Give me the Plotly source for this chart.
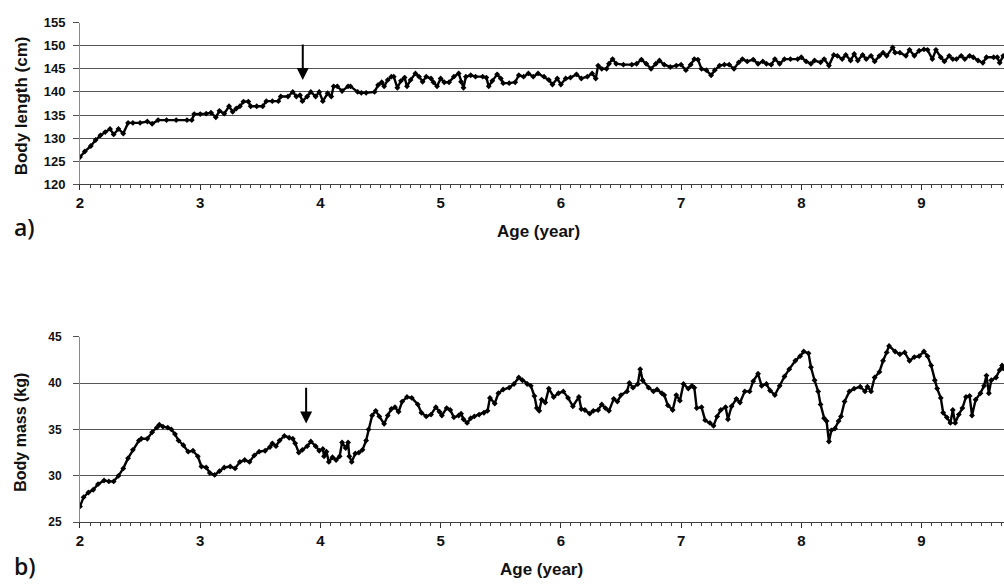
import plotly.graph_objects as go

# ---------------- data ----------------
age_length = [2.00, 2.04, 2.09, 2.13, 2.17, 2.21, 2.25, 2.28, 2.32, 2.36, 2.40, 2.44, 2.50, 2.56, 2.60,
              2.65, 2.72, 2.80, 2.89, 2.93, 2.95, 3.00, 3.05, 3.09, 3.13, 3.16, 3.20, 3.24, 3.27, 3.30,
              3.33, 3.36, 3.40, 3.42, 3.47, 3.52, 3.55, 3.60, 3.65, 3.67, 3.73, 3.77, 3.80, 3.83, 3.85,
              3.89, 3.92, 3.96, 3.99, 4.02, 4.06, 4.09, 4.11, 4.14, 4.18, 4.23, 4.25, 4.31, 4.34, 4.38,
              4.45, 4.48, 4.51, 4.53, 4.56, 4.59, 4.61, 4.64, 4.67, 4.70, 4.72, 4.75, 4.79, 4.82, 4.85,
              4.88, 4.92, 4.94, 4.97, 5.00, 5.03, 5.07, 5.11, 5.15, 5.17, 5.19, 5.21, 5.25, 5.29, 5.35,
              5.38, 5.40, 5.43, 5.47, 5.50, 5.52, 5.57, 5.62, 5.65, 5.69, 5.73, 5.77, 5.81, 5.86, 5.90,
              5.93, 5.97, 6.00, 6.04, 6.08, 6.13, 6.17, 6.22, 6.26, 6.29, 6.31, 6.34, 6.38, 6.40, 6.43,
              6.46, 6.52, 6.59, 6.63, 6.67, 6.71, 6.75, 6.79, 6.82, 6.86, 6.91, 6.96, 7.00, 7.04, 7.08,
              7.11, 7.14, 7.17, 7.21, 7.25, 7.28, 7.32, 7.36, 7.40, 7.44, 7.48, 7.51, 7.55, 7.60, 7.64,
              7.68, 7.71, 7.75, 7.78, 7.82, 7.86, 7.91, 7.97, 8.00, 8.04, 8.08, 8.11, 8.16, 8.19, 8.23,
              8.27, 8.30, 8.34, 8.37, 8.41, 8.44, 8.47, 8.51, 8.54, 8.58, 8.61, 8.65, 8.68, 8.71, 8.76,
              8.78, 8.82, 8.87, 8.90, 8.94, 8.98, 9.02, 9.05, 9.09, 9.12, 9.16, 9.19, 9.23, 9.26, 9.29,
              9.33, 9.36, 9.40, 9.43, 9.47, 9.51, 9.54, 9.60, 9.63, 9.65, 9.68]
body_length = [125.9, 127.1, 128.3, 129.6, 130.6, 131.3, 132.0, 130.8, 132.0, 131.0, 133.3, 133.3, 133.3, 133.6, 133.1,
               133.9, 133.9, 133.9, 133.9, 133.9, 135.2, 135.2, 135.3, 135.5, 134.5, 135.9, 135.3, 136.9, 135.7, 136.4,
               136.9, 137.9, 137.9, 136.9, 136.9, 136.9, 138.0, 138.0, 138.0, 139.0, 139.0, 140.0, 139.0, 139.3, 138.0,
               139.0, 140.0, 139.0, 140.0, 138.0, 139.7, 139.0, 141.2, 141.2, 140.2, 141.2, 141.2, 140.0, 139.8, 139.8,
               140.0, 141.5, 142.1, 141.2, 142.6, 143.3, 143.3, 140.9, 142.4, 143.1, 141.2, 142.6, 144.0, 143.3, 142.2,
               143.3, 142.9, 142.1, 141.2, 142.9, 142.1, 142.1, 143.3, 144.0, 142.2, 140.9, 143.3, 143.6, 143.3, 143.3,
               143.1, 141.2, 142.4, 143.8, 142.9, 141.9, 141.9, 142.1, 143.6, 143.3, 144.0, 143.3, 144.0, 143.3, 142.6,
               141.6, 142.9, 141.6, 142.9, 143.1, 143.8, 142.9, 143.3, 144.0, 142.9, 145.7, 145.0, 145.0, 146.1, 147.1,
               146.1, 145.9, 145.9, 146.1, 147.0, 146.1, 145.0, 146.1, 146.8, 145.9, 145.4, 145.7, 145.9, 144.7, 145.9,
               147.1, 147.0, 145.0, 144.7, 143.6, 144.7, 145.7, 145.9, 145.9, 145.0, 146.4, 147.1, 146.6, 147.0, 146.1,
               146.6, 146.1, 145.9, 147.1, 146.1, 147.1, 147.1, 147.1, 147.5, 146.6, 146.1, 146.8, 146.4, 147.1, 145.7,
               148.0, 147.8, 147.1, 148.0, 146.8, 148.2, 146.8, 148.0, 147.1, 147.8, 146.6, 147.8, 148.5, 147.8, 149.6,
               148.5, 148.5, 147.8, 149.1, 147.8, 148.9, 149.2, 149.1, 147.1, 149.1, 147.5, 146.6, 147.8, 147.1, 147.1,
               147.8, 147.1, 147.8, 147.5, 146.8, 146.3, 147.5, 147.5, 147.5, 146.3, 147.8]

age_mass = [2.00, 2.03, 2.07, 2.11, 2.15, 2.20, 2.24, 2.28, 2.32, 2.36, 2.40, 2.44, 2.49, 2.51, 2.56,
            2.60, 2.64, 2.66, 2.69, 2.73, 2.76, 2.79, 2.82, 2.86, 2.90, 2.94, 2.98, 3.01, 3.05, 3.08,
            3.12, 3.16, 3.20, 3.25, 3.29, 3.33, 3.37, 3.41, 3.45, 3.49, 3.54, 3.58, 3.60, 3.63, 3.66,
            3.70, 3.74, 3.77, 3.79, 3.82, 3.85, 3.89, 3.92, 3.96, 3.99, 4.02, 4.03, 4.05, 4.07, 4.10,
            4.13, 4.16, 4.18, 4.21, 4.23, 4.24, 4.26, 4.29, 4.32, 4.35, 4.38, 4.40, 4.43, 4.46, 4.49,
            4.53, 4.56, 4.59, 4.62, 4.65, 4.68, 4.72, 4.76, 4.81, 4.84, 4.88, 4.92, 4.96, 4.99, 5.01,
            5.05, 5.08, 5.11, 5.15, 5.17, 5.19, 5.22, 5.25, 5.28, 5.32, 5.36, 5.39, 5.41, 5.45, 5.48,
            5.52, 5.57, 5.61, 5.65, 5.68, 5.72, 5.75, 5.78, 5.80, 5.82, 5.84, 5.87, 5.90, 5.94, 5.98,
            6.02, 6.06, 6.10, 6.15, 6.17, 6.20, 6.24, 6.27, 6.31, 6.34, 6.37, 6.40, 6.44, 6.47, 6.50,
            6.55, 6.57, 6.60, 6.64, 6.66, 6.68, 6.73, 6.77, 6.80, 6.84, 6.86, 6.89, 6.93, 6.96, 6.99,
            7.02, 7.06, 7.09, 7.11, 7.13, 7.17, 7.20, 7.24, 7.27, 7.30, 7.33, 7.37, 7.39, 7.42, 7.46,
            7.49, 7.53, 7.57, 7.60, 7.64, 7.67, 7.71, 7.74, 7.78, 7.82, 7.86, 7.90, 7.95, 7.99, 8.02,
            8.06, 8.08, 8.11, 8.14, 8.16, 8.19, 8.21, 8.23, 8.25, 8.28, 8.31, 8.33, 8.36, 8.40, 8.44,
            8.49, 8.53, 8.55, 8.58, 8.61, 8.65, 8.68, 8.71, 8.73, 8.78, 8.82, 8.86, 8.90, 8.94, 8.98,
            9.02, 9.05, 9.08, 9.11, 9.13, 9.16, 9.18, 9.21, 9.24, 9.26, 9.28, 9.31, 9.34, 9.37, 9.40,
            9.42, 9.45, 9.49, 9.52, 9.54, 9.56, 9.58, 9.62, 9.65, 9.67, 9.68]
body_mass = [26.7, 27.7, 28.2, 28.5, 29.1, 29.5, 29.4, 29.4, 30.0, 30.8, 31.9, 32.8, 33.8, 34.0, 34.0,
             34.7, 35.2, 35.5, 35.3, 35.2, 35.0, 34.5, 33.8, 33.3, 32.6, 32.7, 32.1, 31.0, 30.9, 30.3,
             30.1, 30.5, 30.9, 31.0, 30.8, 31.5, 31.7, 31.5, 32.2, 32.6, 32.7, 33.1, 33.5, 33.2, 33.8,
             34.3, 34.1, 34.0, 33.5, 32.5, 32.8, 33.2, 33.7, 33.2, 32.7, 32.9, 32.1, 32.6, 31.5, 32.0,
             31.7, 32.1, 33.6, 33.0, 33.6, 32.1, 31.5, 32.4, 32.5, 32.8, 33.8, 35.0, 36.5, 37.0, 36.4,
             35.6, 36.5, 37.2, 37.4, 36.9, 38.0, 38.5, 38.4, 37.7, 36.8, 36.4, 36.6, 37.4, 36.9, 36.5,
             37.3, 37.1, 36.3, 36.5, 36.7, 36.1, 35.7, 36.2, 36.4, 36.6, 36.8, 37.0, 38.4, 37.8, 38.9,
             39.3, 39.5, 39.9, 40.6, 40.3, 39.9, 39.7, 38.6, 37.3, 37.0, 38.2, 37.9, 39.4, 38.5, 38.9,
             39.1, 38.4, 37.5, 38.5, 37.2, 37.1, 36.7, 37.0, 37.1, 37.7, 37.3, 37.0, 38.3, 38.0, 38.7,
             39.1, 40.0, 39.5, 39.9, 41.5, 40.3, 39.5, 39.1, 39.3, 38.9, 38.7, 37.6, 37.1, 38.7, 38.1,
             39.9, 39.4, 39.7, 39.5, 37.3, 37.4, 36.0, 35.7, 35.4, 36.4, 37.1, 37.4, 36.1, 37.5, 38.3,
             37.9, 39.1, 39.1, 40.2, 41.0, 39.7, 39.9, 39.2, 38.7, 39.7, 40.7, 41.5, 42.4, 42.9, 43.4,
             43.2, 41.7, 40.3, 39.1, 37.7, 36.2, 35.9, 33.7, 34.9, 35.1, 35.9, 36.4, 38.0, 39.1, 39.4,
             39.6, 39.1, 39.6, 39.1, 40.6, 41.2, 42.4, 43.3, 44.0, 43.4, 43.1, 43.3, 42.4, 42.8, 42.9,
             43.4, 42.9, 41.9, 40.3, 39.4, 38.4, 36.8, 36.3, 35.7, 37.1, 35.7, 36.6, 37.3, 38.5, 38.6,
             36.5, 38.2, 38.9, 39.7, 40.8, 38.9, 40.3, 40.6, 41.4, 41.9, 41.6]

age_ticks = [2, 3, 4, 5, 6, 7, 8, 9]
length_ticks = [120, 125, 130, 135, 140, 145, 150, 155]
mass_ticks = [25, 30, 35, 40, 45]
age_range = [2, 9.686]
length_range = [120, 155]
mass_range = [25, 45]

# arrows: [age, tail value, tip value]
arrow_length = [3.853, 150.6, 142.6]
arrow_mass = [3.881, 39.65, 35.65]

# ---------------- layout helpers ----------------
W, H = 1004, 587
X0 = 76.3 / W


def py(p):
    return 1 - p / H


SANS = "Liberation Sans, Arial, sans-serif"
TICKFONT = dict(family=SANS, size=13, color="#111111", weight="bold")
TITLEFONT = dict(family=SANS, size=17, color="#111111", weight="bold")
LABFONT = dict(family="Open Sans", size=23, color="#111111", weight=600)

fig = go.Figure()

line_style = dict(color="black", width=2.4)
mark_style = dict(symbol="diamond", size=4.5, color="black")

fig.add_trace(go.Scatter(x=age_length, y=body_length, mode="lines+markers",
                         line=line_style, marker=mark_style, xaxis="x", yaxis="y",
                         showlegend=False, hoverinfo="x+y"))
fig.add_trace(go.Scatter(x=age_mass, y=body_mass, mode="lines+markers",
                         line=line_style, marker=mark_style, xaxis="x2", yaxis="y2",
                         showlegend=False, hoverinfo="x+y"))


def xaxis_cfg(anchor):
    return dict(domain=[X0, 1.0], anchor=anchor, range=age_range, tickvals=age_ticks,
                showline=True, linecolor="#404040", linewidth=1,
                ticks="outside", ticklen=5, tickcolor="#303030", tickwidth=1,
                ticklabelstandoff=0,
                minor=dict(dtick=1 / 12, tick0=2, ticks="outside", ticklen=3,
                           tickcolor="#404040", tickwidth=1, showgrid=False),
                showgrid=False, zeroline=False, tickfont=dict(TICKFONT, size=15))


def yaxis_cfg(anchor, dom, rng, vals, size, standoff):
    return dict(domain=dom, anchor=anchor, range=rng, tickvals=vals,
                showline=True, linecolor="#8a8a8a", linewidth=1,
                ticks="outside", ticklen=6, tickcolor="#505050", tickwidth=1,
                ticklabelstandoff=standoff,
                showgrid=True, gridcolor="#555555", gridwidth=1, zeroline=False,
                tickfont=dict(TICKFONT, size=size))


fig.update_layout(
    width=W, height=H,
    margin=dict(l=0, r=0, t=0, b=0),
    paper_bgcolor="white", plot_bgcolor="white",
    xaxis=xaxis_cfg("y"),
    yaxis=yaxis_cfg("x", [py(182), py(16)], length_range, length_ticks, 13, 5),
    xaxis2=xaxis_cfg("y2"),
    yaxis2=yaxis_cfg("x2", [py(528.7), py(338.3)], mass_range, mass_ticks, 12, 9),
)

annotations = [
    dict(text="Body length (cm)", x=17 / W, y=py(101), xref="paper", yref="paper",
         textangle=-90, showarrow=False, font=TITLEFONT, xanchor="center", yanchor="middle"),
    dict(text="Body mass (kg)", x=17 / W, y=py(436), xref="paper", yref="paper",
         textangle=-90, showarrow=False, font=dict(TITLEFONT, size=16), xanchor="center", yanchor="middle"),
    dict(text="Age (year)", x=537 / W, y=py(230), xref="paper", yref="paper",
         showarrow=False, font=TITLEFONT, xanchor="center", yanchor="middle"),
    dict(text="Age (year)", x=540 / W, y=py(577), xref="paper", yref="paper",
         showarrow=False, font=TITLEFONT, xanchor="center", yanchor="middle"),
    dict(text="a)", x=21 / W, y=py(226), xref="paper", yref="paper",
         showarrow=False, font=LABFONT, xanchor="center", yanchor="middle"),
    dict(text="b)", x=21 / W, y=py(574), xref="paper", yref="paper",
         showarrow=False, font=LABFONT, xanchor="center", yanchor="middle"),
    dict(x=arrow_length[0], y=arrow_length[2], ax=arrow_length[0], ay=arrow_length[1],
         xref="x", yref="y", axref="x", ayref="y", showarrow=True,
         arrowhead=2, arrowsize=1.2, arrowwidth=2, arrowcolor="black", text=""),
    dict(x=arrow_mass[0], y=arrow_mass[2], ax=arrow_mass[0], ay=arrow_mass[1],
         xref="x2", yref="y2", axref="x2", ayref="y2", showarrow=True,
         arrowhead=2, arrowsize=1.2, arrowwidth=2, arrowcolor="black", text=""),
]
fig.update_layout(annotations=annotations)

fig.write_html("out.html", config={"displayModeBar": False},
               post_script="document.body.style.margin='0';document.body.style.overflow='hidden';")
